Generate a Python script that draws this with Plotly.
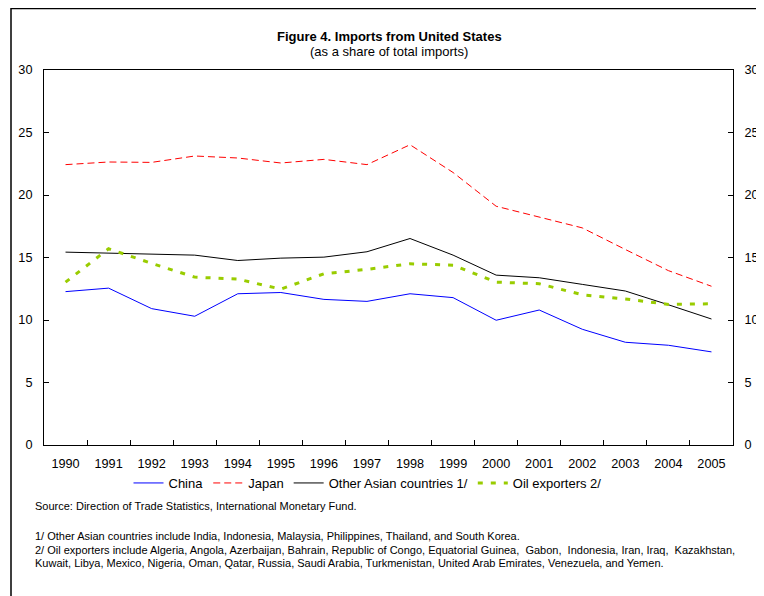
import plotly.graph_objects as go

years = [str(y) for y in range(1990, 2006)]
china = [12.27, 12.55, 10.91, 10.3, 12.1, 12.2, 11.65, 11.49, 12.1, 11.79, 9.98, 10.8, 9.26, 8.22, 7.98, 7.45]
japan = [22.43, 22.64, 22.61, 23.12, 22.96, 22.56, 22.85, 22.43, 24.02, 21.8, 19.1, 18.22, 17.37, 15.64, 13.95, 12.7]
other_asia = [15.43, 15.35, 15.24, 15.19, 14.76, 14.95, 15.03, 15.46, 16.52, 15.19, 13.59, 13.38, 12.85, 12.32, 11.22, 10.08]
oil = [13.03, 15.7, 14.53, 13.43, 13.27, 12.47, 13.7, 14.05, 14.5, 14.39, 13.03, 12.9, 12.02, 11.68, 11.25, 11.3]
y_ticks = [0, 5, 10, 15, 20, 25, 30]

FONT = "Liberation Sans, Arial, sans-serif"
OFF = 8  # page body margin offset
W, H = 764 - OFF, 596 - OFF
# plot area in window coordinates
X0, X1, Y0, Y1 = 44, 733, 70, 445
L, R, T, B = X0 - OFF, W - (X1 - OFF), Y0 - OFF, H - (Y1 - OFF)
PW, PH = W - L - R, H - T - B

def px(x):
    return (x - X0) / PW

def py(y):
    return (Y1 - y) / PH

fig = go.Figure()
fig.add_trace(go.Scatter(x=years, y=china, name="China", mode="lines",
                         line=dict(color="#0000FF", width=1)))
fig.add_trace(go.Scatter(x=years, y=japan, name="Japan", mode="lines",
                         line=dict(color="#FF0000", width=1, dash="7px,4px")))
fig.add_trace(go.Scatter(x=years, y=other_asia, name="Other Asian countries 1/", mode="lines",
                         line=dict(color="#000000", width=1)))
fig.add_trace(go.Scatter(x=years, y=oil, name="Oil exporters 2/", mode="lines",
                         line=dict(color="#99CC00", width=3, dash="5px,8px")))
fig.add_trace(go.Scatter(x=years, y=oil, yaxis="y2", showlegend=False, hoverinfo="skip",
                         mode="lines", line=dict(width=0), opacity=0))

axis_common = dict(showline=True, linecolor="black", linewidth=1, ticks="inside",
                   ticklen=5, tickcolor="black", showgrid=False, zeroline=False,
                   automargin=False,
                   tickfont=dict(family=FONT, size=12.7, color="black"))

fig.update_layout(
    width=W, height=H, autosize=False,
    margin=dict(l=L, r=R, t=T, b=B),
    paper_bgcolor="white", plot_bgcolor="white",
    font=dict(family=FONT, size=12, color="black"),
    xaxis=dict(type="category", tickson="boundaries", mirror=True,
               range=[-0.5, len(years) - 0.5], ticklabelstandoff=7, **axis_common),
    yaxis=dict(range=[0, 30], tickvals=y_ticks, mirror=True, ticklabelstandoff=8, **axis_common),
    yaxis2=dict(range=[0, 30], tickvals=y_ticks, overlaying="y", side="right",
                ticklabelstandoff=8, **axis_common),
    showlegend=True,
    legend=dict(orientation="h", x=px(367.5), xanchor="center", y=py(483), yanchor="middle",
                font=dict(family=FONT, size=13), bgcolor="rgba(0,0,0,0)",
                itemwidth=30, tracegroupgap=0),
)

annotations = [
    dict(text="<b>Figure 4. Imports from United States</b>", x=px(389), y=py(37), size=13),
    dict(text="(as a share of total imports)", x=px(389), y=py(52), size=13),
]
for a in annotations:
    fig.add_annotation(text=a["text"], x=a["x"], y=a["y"], xref="paper", yref="paper",
                       xanchor="center", yanchor="middle", showarrow=False,
                       font=dict(family=FONT, size=a["size"], color="black"))

notes = [
    ("Source: Direction of Trade Statistics, International Monetary Fund.", 506),
    ("1/ Other Asian countries include India, Indonesia, Malaysia, Philippines, Thailand, and South Korea.", 536),
    ("2/ Oil exporters include Algeria, Angola, Azerbaijan, Bahrain, Republic of Congo, Equatorial Guinea,  Gabon,  Indonesia, Iran, Iraq,  Kazakhstan,", 550),
    ("Kuwait, Libya, Mexico, Nigeria, Oman, Qatar, Russia, Saudi Arabia, Turkmenistan, United Arab Emirates, Venezuela, and Yemen.", 563),
]
for t, yy in notes:
    fig.add_annotation(text=t, x=px(33), y=py(yy), xref="paper", yref="paper",
                       xanchor="left", yanchor="middle", showarrow=False,
                       font=dict(family=FONT, size=11, color="black"))

fig.add_shape(type="rect", xref="paper", yref="paper",
              x0=px(11), x1=px(790), y0=py(620), y1=py(8.5),
              line=dict(color="black", width=1.5), fillcolor="rgba(0,0,0,0)", layer="below")

fig.write_html("out.html")
